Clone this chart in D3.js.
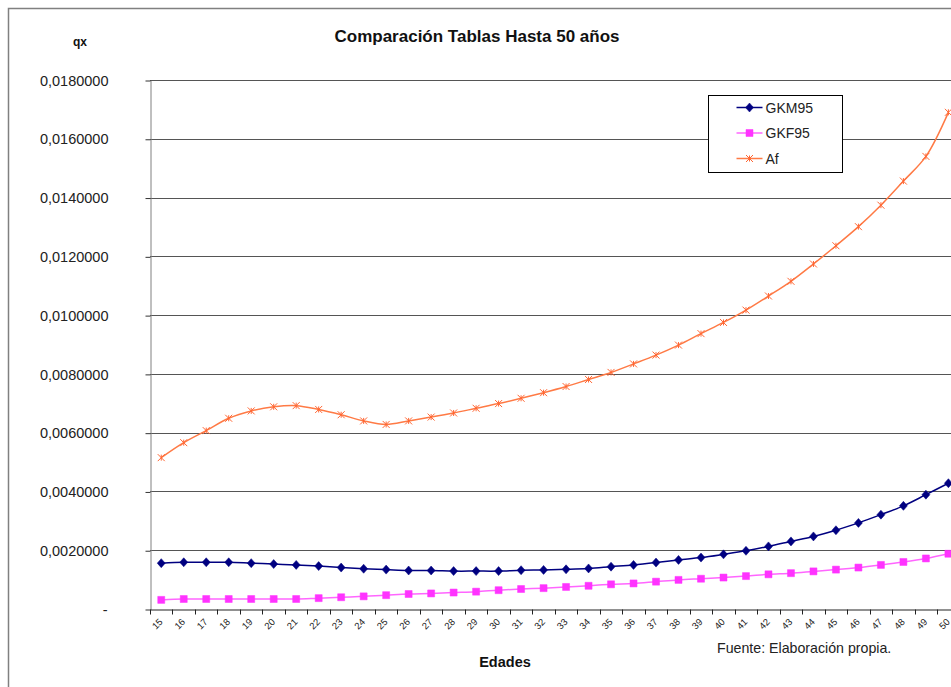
<!DOCTYPE html>
<html>
<head>
<meta charset="utf-8">
<script src="https://cdn.jsdelivr.net/npm/d3@7"></script>
<style>
  body { margin: 0; background: #fff; }
  svg { display: block; font-family: Arial, 'Liberation Sans', sans-serif; overflow: hidden; }
</style>
</head>
<body>
<svg width="951" height="687"></svg>
<script>
const ages = d3.range(15, 51)

// qx values (x 0.001)
const gkm95 = [1.56, 1.59, 1.59, 1.59, 1.56, 1.53, 1.50, 1.46, 1.41, 1.37, 1.34, 1.31, 1.31,
  1.29, 1.29, 1.29, 1.32, 1.33, 1.35, 1.38, 1.44, 1.50, 1.58, 1.67, 1.75, 1.86, 1.98, 2.13,
  2.30, 2.47, 2.68, 2.93, 3.21, 3.51, 3.89, 4.28]
const gkf95 = [0.31, 0.34, 0.34, 0.34, 0.34, 0.34, 0.34, 0.37, 0.40, 0.43, 0.47, 0.51, 0.53,
  0.56, 0.59, 0.64, 0.68, 0.71, 0.75, 0.79, 0.84, 0.87, 0.93, 0.99, 1.03, 1.07, 1.12, 1.18,
  1.22, 1.28, 1.34, 1.41, 1.50, 1.60, 1.72, 1.88]
const af = [5.15, 5.66, 6.07, 6.49, 6.74, 6.88, 6.92, 6.79, 6.61, 6.40, 6.28, 6.40, 6.53,
  6.67, 6.83, 6.99, 7.17, 7.36, 7.57, 7.81, 8.05, 8.34, 8.64, 8.98, 9.37, 9.75, 10.17, 10.65,
  11.15, 11.74, 12.36, 13.01, 13.74, 14.56, 15.40, 16.90]

const yTicks = d3.range(0, 0.0181, 0.002)

const series = [
  { name: 'GKM95', values: gkm95, line: '#000080', fill: '#000080', marker: 'diamond' },
  { name: 'GKF95', values: gkf95, line: '#ff66ff', fill: '#ff33ff', marker: 'square' },
  { name: 'Af', values: af, line: '#ff7a45', fill: '#ff6633', marker: 'star' }
]

const svg = d3.select('svg')
const plotLeft = 150, plotTop = 80, plotBottom = 609
const step = 22.49

const x = d3.scaleBand().domain(ages).range([plotLeft, plotLeft + step * ages.length])
const y = d3.scaleLinear().domain([0, 0.018]).range([plotBottom, plotTop])

// outer chart border
svg.append('path')
  .attr('d', 'M8.5,700 V8.5 H960')
  .attr('fill', 'none')
  .attr('stroke', '#808080')
  .attr('stroke-width', 1.5)

// gridlines
svg.append('g')
  .selectAll('line')
  .data(yTicks.slice(1))
  .enter()
  .append('line')
  .attr('x1', plotLeft)
  .attr('x2', 960)
  .attr('y1', d => Math.round(y(d)) + 0.5)
  .attr('y2', d => Math.round(y(d)) + 0.5)
  .attr('stroke', '#555')

// y axis
const fmt = d => d === 0 ? '-' : d3.format('.7f')(d).replace('.', ',')
const yAxis = d3.axisLeft(y).tickValues(yTicks).tickFormat(fmt).tickSize(5).tickPadding(37).tickSizeOuter(0)
const gy = svg.append('g').attr('transform', `translate(${plotLeft + 0.5},0.5)`).call(yAxis)
gy.select('.domain').attr('stroke', '#808080')
gy.selectAll('.tick line').attr('stroke', '#333')
gy.selectAll('text').attr('font-size', 14.5).attr('fill', '#222').attr('font-family', 'Arial, Liberation Sans')
gy.selectAll('.tick').filter(d => d === 0).select('text').attr('dx', -1)

// x axis
const xAxis = d3.axisBottom(x).tickSize(0).tickSizeOuter(0)
const gx = svg.append('g').attr('transform', `translate(0,${plotBottom + 0.5})`).call(xAxis)
gx.select('.domain').attr('stroke', '#222')
gx.selectAll('.tick text')
  .attr('font-size', 9.5)
  .attr('fill', '#222')
  .attr('font-family', 'Arial, Liberation Sans')
  .attr('text-anchor', 'end')
  .attr('dy', 0)
  .attr('transform', 'translate(0,11) rotate(-45)')
// category boundary ticks
gx.append('g')
  .selectAll('line')
  .data(d3.range(ages.length + 1))
  .enter()
  .append('line')
  .attr('x1', i => Math.round(plotLeft + i * step) + 0.5)
  .attr('x2', i => Math.round(plotLeft + i * step) + 0.5)
  .attr('y1', 0)
  .attr('y2', 5)
  .attr('stroke', '#222')

// lines
const line = d3.line()
  .x((d, i) => x(ages[i]) + x.bandwidth() / 2)
  .y(d => y(d / 1000))
  .curve(d3.curveCatmullRom.alpha(0.5))

const markerPath = (type, cx, cy) => {
  if (type === 'diamond') return `M${cx},${cy - 4.5}L${cx + 4},${cy}L${cx},${cy + 4.5}L${cx - 4},${cy}Z`
  if (type === 'square') return `M${cx - 3.5},${cy - 3.5}h7v7h-7Z`
  return `M${cx - 3.5},${cy - 3.5}L${cx + 3.5},${cy + 3.5}M${cx + 3.5},${cy - 3.5}L${cx - 3.5},${cy + 3.5}M${cx},${cy - 3}V${cy + 3}`
}

series.forEach(s => {
  const g = svg.append('g')
  g.append('path')
    .datum(s.values)
    .attr('d', line)
    .attr('fill', 'none')
    .attr('stroke', s.line)
    .attr('stroke-width', 1.5)
  g.selectAll('path.m')
    .data(s.values)
    .enter()
    .append('path')
    .attr('class', 'm')
    .attr('d', (d, i) => markerPath(s.marker, x(ages[i]) + x.bandwidth() / 2, y(d / 1000)))
    .attr('fill', s.marker === 'star' ? 'none' : s.fill)
    .attr('stroke', s.fill)
    .attr('stroke-width', s.marker === 'star' ? 1 : 0.5)
})

// legend
const lg = svg.append('g').attr('transform', 'translate(708.5,95.5)')
lg.append('rect').attr('width', 134).attr('height', 77).attr('fill', '#fff').attr('stroke', '#000')
series.forEach((s, i) => {
  const cy = 12 + i * 25.5
  lg.append('line').attr('x1', 28).attr('x2', 54).attr('y1', cy).attr('y2', cy).attr('stroke', s.line).attr('stroke-width', 1.5)
  lg.append('path').attr('d', markerPath(s.marker, 41, cy))
    .attr('fill', s.marker === 'star' ? 'none' : s.fill)
    .attr('stroke', s.fill)
    .attr('stroke-width', s.marker === 'star' ? 1 : 0.5)
  lg.append('text').attr('x', 57).attr('y', cy + 5).attr('font-size', 14).attr('fill', '#222').text(s.name)
})

// titles
svg.append('text').attr('x', 477).attr('y', 42).attr('text-anchor', 'middle')
  .attr('font-size', 17).attr('font-weight', 'bold').attr('fill', '#111')
  .text('Comparación Tablas Hasta 50 años')
svg.append('text').attr('x', 80).attr('y', 46).attr('text-anchor', 'middle')
  .attr('font-size', 12).attr('font-weight', 'bold').attr('fill', '#111').text('qx')
svg.append('text').attr('x', 505).attr('y', 667).attr('text-anchor', 'middle')
  .attr('font-size', 14.5).attr('font-weight', 'bold').attr('fill', '#111').text('Edades')
svg.append('text').attr('x', 717).attr('y', 653)
  .attr('font-size', 14.2).attr('fill', '#222').text('Fuente: Elaboración propia.')
</script>
</body>
</html>
